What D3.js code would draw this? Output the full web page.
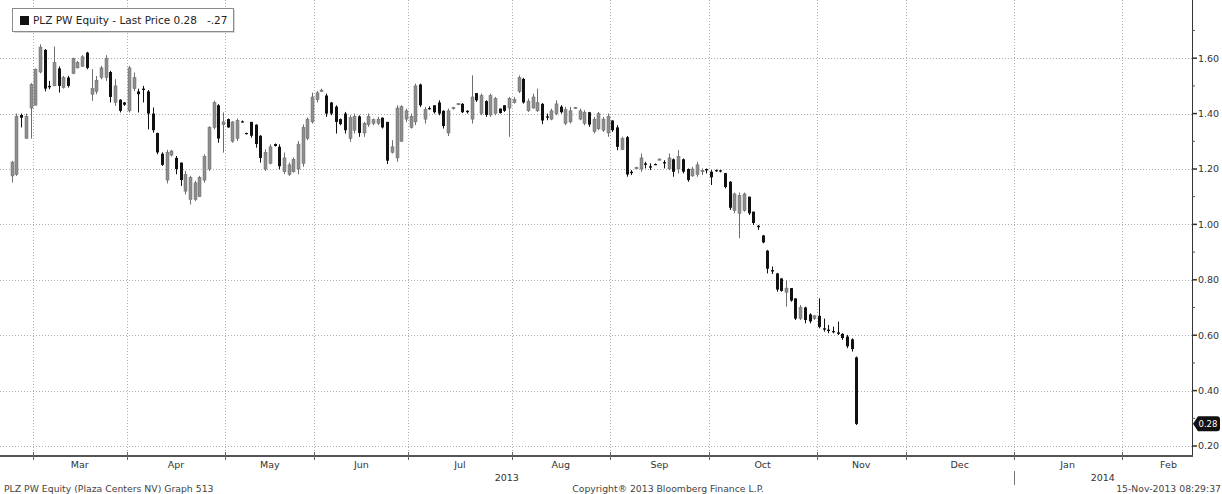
<!DOCTYPE html>
<html><head><meta charset="utf-8">
<script src="https://cdn.jsdelivr.net/npm/d3@7/dist/d3.min.js"></script>
<style>
body{margin:0;background:#fff;}
svg{display:block;font-family:"DejaVu Sans",Verdana,sans-serif;}
text{white-space:pre;}
</style>
</head><body>
<svg id="chart" width="1222" height="494"></svg>
<script>
// ---- Data ----
const openP = [1.175,1.18,1.395,1.31,1.42,1.43,1.55,1.63,1.50,1.50,1.563,1.494,1.53,1.545,1.565,1.57,1.62,1.47,1.48,1.53,
1.53,1.55,1.44,1.45,1.44,1.41,1.49,1.48,1.49,1.48,1.40,1.33,1.255,1.16,1.25,1.24,1.223,1.12,1.09,1.09,
1.10,1.16,1.20,1.35,1.43,1.36,1.38,1.30,1.31,1.372,1.33,1.37,1.36,1.32,1.20,1.22,1.29,1.28,1.19,1.18,
1.19,1.20,1.22,1.31,1.37,1.45,1.48,1.465,1.44,1.425,1.38,1.40,1.31,1.34,1.39,1.33,1.36,1.365,1.365,1.385,
1.37,1.26,1.24,1.30,1.38,1.35,1.37,1.505,1.38,1.42,1.43,1.44,1.41,1.33,1.418,1.434,1.435,1.41,1.38,1.474,
1.40,1.445,1.395,1.40,1.418,1.43,1.42,1.44,1.48,1.525,1.41,1.42,1.41,1.435,1.39,1.38,1.40,1.425,1.365,1.37,
1.42,1.38,1.365,1.405,1.335,1.345,1.34,1.33,1.375,1.35,1.27,1.315,1.19,1.205,1.20,1.22,1.21,1.218,1.235,1.225,
1.20,1.235,1.20,1.235,1.20,1.175,1.18,1.19,1.20,1.19,1.196,1.195,1.185,1.154,1.05,1.04,1.05,1.10,1.046,0.995,
0.96,0.905,0.835,0.823,0.805,0.755,0.77,0.733,0.66,0.70,0.675,0.66,0.67,0.625,0.62,0.615,0.61,0.605,0.595,0.585,
0.52];
const highP = [1.229,1.40,1.40,1.40,1.51,1.563,1.65,1.633,1.518,1.642,1.57,1.536,1.536,1.602,1.59,1.611,1.623,1.56,1.536,1.572,
1.611,1.554,1.524,1.452,1.442,1.572,1.548,1.49,1.50,1.485,1.422,1.331,1.26,1.269,1.269,1.247,1.223,1.193,1.175,1.157,
1.175,1.253,1.355,1.446,1.434,1.404,1.382,1.373,1.382,1.375,1.331,1.37,1.361,1.322,1.271,1.289,1.292,1.289,1.259,1.223,
1.241,1.301,1.361,1.386,1.476,1.482,1.49,1.472,1.442,1.43,1.382,1.406,1.394,1.40,1.394,1.37,1.40,1.382,1.388,1.386,
1.37,1.304,1.43,1.43,1.418,1.40,1.508,1.508,1.424,1.426,1.43,1.448,1.412,1.418,1.424,1.438,1.438,1.412,1.538,1.474,
1.472,1.448,1.472,1.46,1.418,1.43,1.46,1.46,1.538,1.529,1.454,1.472,1.49,1.438,1.40,1.418,1.448,1.43,1.424,1.424,
1.424,1.418,1.412,1.406,1.388,1.406,1.388,1.40,1.376,1.358,1.316,1.319,1.196,1.208,1.256,1.226,1.22,1.22,1.238,1.232,
1.256,1.238,1.268,1.238,1.202,1.208,1.226,1.202,1.202,1.196,1.198,1.197,1.186,1.156,1.115,1.115,1.115,1.10,1.046,0.998,
0.962,0.908,0.848,0.825,0.805,0.799,0.77,0.733,0.709,0.703,0.679,0.673,0.733,0.66,0.637,0.631,0.649,0.607,0.601,0.589,
0.523];
const lowP = [1.151,1.175,1.35,1.31,1.31,1.43,1.545,1.48,1.488,1.50,1.476,1.49,1.494,1.542,1.563,1.57,1.56,1.446,1.47,1.524,
1.518,1.44,1.428,1.404,1.428,1.404,1.482,1.404,1.44,1.343,1.331,1.253,1.211,1.148,1.245,1.181,1.139,1.108,1.072,1.084,
1.10,1.151,1.193,1.343,1.295,1.259,1.349,1.295,1.301,1.368,1.325,1.313,1.277,1.223,1.193,1.217,1.281,1.199,1.181,1.175,
1.187,1.181,1.208,1.304,1.364,1.44,1.478,1.388,1.394,1.328,1.358,1.328,1.298,1.328,1.316,1.316,1.352,1.358,1.358,1.346,
1.218,1.256,1.226,1.298,1.37,1.346,1.358,1.424,1.364,1.414,1.40,1.394,1.346,1.319,1.414,1.432,1.402,1.40,1.364,1.442,
1.394,1.388,1.388,1.394,1.40,1.406,1.316,1.436,1.474,1.436,1.406,1.418,1.406,1.362,1.376,1.376,1.394,1.40,1.358,1.364,
1.418,1.376,1.358,1.352,1.328,1.34,1.334,1.316,1.334,1.268,1.268,1.172,1.178,1.202,1.19,1.202,1.196,1.214,1.232,1.202,
1.196,1.172,1.184,1.184,1.154,1.172,1.172,1.178,1.184,1.142,1.19,1.188,1.13,1.052,1.04,0.95,1.046,1.034,0.998,0.98,
0.932,0.823,0.821,0.757,0.757,0.703,0.721,0.655,0.655,0.643,0.643,0.655,0.625,0.613,0.607,0.607,0.601,0.583,0.553,0.541,
0.276];
const closeP = [1.225,1.39,1.385,1.39,1.505,1.56,1.64,1.49,1.495,1.584,1.50,1.53,1.50,1.598,1.585,1.605,1.565,1.49,1.52,1.565,
1.60,1.46,1.50,1.41,1.432,1.565,1.53,1.47,1.485,1.40,1.34,1.26,1.215,1.26,1.265,1.20,1.16,1.18,1.17,1.15,
1.17,1.245,1.35,1.44,1.31,1.37,1.35,1.37,1.375,1.37,1.328,1.32,1.29,1.24,1.26,1.28,1.283,1.21,1.24,1.215,
1.235,1.29,1.35,1.38,1.46,1.475,1.485,1.40,1.40,1.37,1.362,1.34,1.385,1.39,1.33,1.365,1.39,1.378,1.38,1.35,
1.23,1.28,1.42,1.425,1.41,1.39,1.50,1.43,1.415,1.418,1.405,1.40,1.355,1.41,1.422,1.436,1.405,1.405,1.46,1.448,
1.465,1.395,1.465,1.455,1.402,1.41,1.455,1.45,1.53,1.44,1.445,1.46,1.44,1.375,1.385,1.41,1.435,1.405,1.415,1.41,
1.422,1.41,1.405,1.36,1.38,1.40,1.38,1.39,1.34,1.28,1.31,1.18,1.185,1.205,1.24,1.215,1.205,1.216,1.236,1.22,
1.24,1.19,1.245,1.19,1.16,1.20,1.215,1.195,1.195,1.17,1.195,1.192,1.135,1.06,1.11,1.105,1.11,1.04,1.005,0.99,
0.935,0.84,0.83,0.765,0.76,0.77,0.725,0.66,0.70,0.655,0.65,0.67,0.63,0.62,0.615,0.612,0.605,0.59,0.56,0.55,
0.28];

// Month axis (slot index of first trading day of each month; Bloomberg trading-day axis)
const monthLabels = ["Mar","Apr","May","Jun","Jul","Aug","Sep","Oct","Nov","Dec","Jan","Feb"];
const monthStarts = [5,25,46,65,85,107,128,149,172,191,214,237];
const monthEnds   = [25,46,65,85,107,128,149,172,191,214,237,257];
const yearLabels = ["2013","2014"];
const yearStarts = [-2,214];
const yearEnds   = [214,252];
const yMajorTicks = [0.2,0.4,0.6,0.8,1.0,1.2,1.4,1.6];
const yMinorTicks = [0.3,0.5,0.7,0.9,1.1,1.3,1.5,1.7];
const lastPrice = 0.28;
const legendLabel = "PLZ PW Equity - Last Price 0.28   -.27";
const footerLeft = "PLZ PW Equity (Plaza Centers NV) Graph 513";
const footerMid = "Copyright\u00AE 2013 Bloomberg Finance L.P.";
const footerRight = "15-Nov-2013 08:29:37";

// ---- Layout ----
const svg = d3.select("#chart");
const plotRight = 1192, plotBottom = 456;
const x = d3.scaleLinear().domain([-2, 252]).range([0, plotRight]);
const y = d3.scaleLinear().domain([0.164, 1.81]).range([plotBottom, 0]);
const bars = d3.range(openP.length).map(i => ({i, o:openP[i], h:highP[i], l:lowP[i], c:closeP[i]}));

// gridlines
const grid = svg.append("g").attr("stroke","#adadad").attr("stroke-width",1).attr("stroke-dasharray","1,2");
grid.selectAll("line.h").data(yMajorTicks).join("line")
  .attr("x1",0).attr("x2",plotRight)
  .attr("y1",d=>Math.round(y(d))+0.5).attr("y2",d=>Math.round(y(d))+0.5);
grid.selectAll("line.v").data(monthStarts).join("line")
  .attr("x1",d=>Math.round(x(d))+0.5).attr("x2",d=>Math.round(x(d))+0.5)
  .attr("y1",0).attr("y2",plotBottom);

// candles
const bw = 3;
const cg = svg.append("g");
cg.selectAll("line.wick").data(bars).join("line")
  .attr("x1",d=>Math.round(x(d.i+0.5))+0.5).attr("x2",d=>Math.round(x(d.i+0.5))+0.5)
  .attr("y1",d=>y(d.h)).attr("y2",d=>y(d.l))
  .attr("stroke",d=>d.c>=d.o?"#6e6e6e":"#111").attr("stroke-width",1);
cg.selectAll("rect.body").data(bars).join("rect")
  .attr("x",d=>Math.round(x(d.i+0.5))-1)
  .attr("width",bw)
  .attr("y",d=>y(Math.max(d.o,d.c)))
  .attr("height",d=>Math.max(1.2, Math.abs(y(d.o)-y(d.c))))
  .attr("fill",d=>d.c>=d.o?"#8e8e8e":"#111")
  .attr("stroke",d=>d.c>=d.o?"#6a6a6a":"none").attr("stroke-width",0.5);

// right axis
const ax = svg.append("g");
ax.append("line").attr("x1",plotRight+0.5).attr("x2",plotRight+0.5).attr("y1",0).attr("y2",plotBottom)
  .attr("stroke","#333").attr("stroke-width",1);
ax.selectAll("line.maj").data(yMajorTicks).join("line")
  .attr("x1",plotRight).attr("x2",plotRight+5)
  .attr("y1",d=>y(d)).attr("y2",d=>y(d)).attr("stroke","#333").attr("stroke-width",1.5);
ax.selectAll("line.min").data(yMinorTicks).join("line")
  .attr("x1",plotRight).attr("x2",plotRight+3)
  .attr("y1",d=>y(d)).attr("y2",d=>y(d)).attr("stroke","#555").attr("stroke-width",1);
ax.selectAll("text").data(yMajorTicks).join("text")
  .attr("x",plotRight+6).attr("y",d=>y(d)).attr("dy","0.35em")
  .attr("font-size",9.5).attr("fill","#333").text(d=>d3.format(".2f")(d));

// last price tag
const ly = y(lastPrice);
svg.append("path")
  .attr("d",`M${plotRight+1},${ly} L${plotRight+6},${ly-7.5} L${plotRight+25},${ly-7.5} Q${plotRight+28},${ly-7.5} ${plotRight+28},${ly-4.5} L${plotRight+28},${ly+4.5} Q${plotRight+28},${ly+7.5} ${plotRight+25},${ly+7.5} L${plotRight+6},${ly+7.5} Z`)
  .attr("fill","#111");
svg.append("text").attr("x",plotRight+6.5).attr("y",ly).attr("dy","0.35em")
  .attr("font-size",8.5).attr("fill","#fff").text(d3.format(".2f")(lastPrice));

// bottom axis
svg.append("line").attr("x1",0).attr("x2",plotRight+1).attr("y1",plotBottom).attr("y2",plotBottom)
  .attr("stroke","#555").attr("stroke-width",2);
svg.append("g").selectAll("line").data(monthStarts).join("line")
  .attr("x1",d=>Math.round(x(d))+0.5).attr("x2",d=>Math.round(x(d))+0.5)
  .attr("y1",plotBottom-4).attr("y2",plotBottom+4).attr("stroke","#666");
svg.append("g").selectAll("text").data(monthLabels).join("text")
  .attr("x",(d,k)=>(x(monthStarts[k])+x(monthEnds[k]))/2).attr("y",468)
  .attr("text-anchor","middle").attr("font-size",9.5).attr("fill","#333").text(d=>d);
svg.append("g").selectAll("text").data(yearLabels).join("text")
  .attr("x",(d,k)=>(x(yearStarts[k])+x(yearEnds[k]))/2).attr("y",481)
  .attr("text-anchor","middle").attr("font-size",9.5).attr("fill","#333").text(d=>d);
svg.append("line").attr("x1",Math.round(x(yearStarts[1]))+0.5).attr("x2",Math.round(x(yearStarts[1]))+0.5)
  .attr("y1",471).attr("y2",485).attr("stroke","#777");

// legend
svg.append("rect").attr("x",14).attr("y",10).attr("width",221).attr("height",23).attr("fill","#d8d8d8");
svg.append("rect").attr("x",12.5).attr("y",8.5).attr("width",221).attr("height",23).attr("fill","#fff").attr("stroke","#8a8a8a");
svg.append("rect").attr("x",20).attr("y",16).attr("width",9).attr("height",9).attr("fill","#111");
svg.append("text").attr("x",33).attr("y",20.5).attr("dy","0.35em").attr("font-size",10.5).attr("fill","#222")
  .attr("xml:space","preserve").text(legendLabel);

// footer
const ft = svg.append("g").attr("font-size",9.3).attr("fill","#444");
ft.append("text").attr("x",4).attr("y",492).text(footerLeft);
ft.append("text").attr("x",668).attr("y",492).attr("text-anchor","middle").text(footerMid);
ft.append("text").attr("x",1221).attr("y",492).attr("text-anchor","end").text(footerRight);
</script>
</body></html>
